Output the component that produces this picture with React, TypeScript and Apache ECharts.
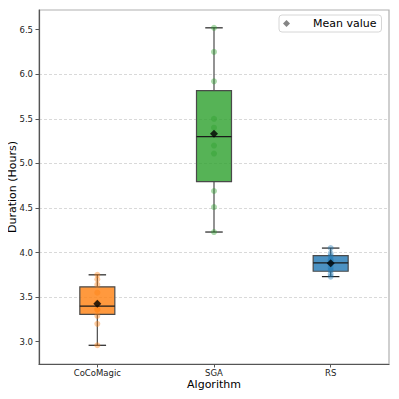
import React, { useEffect, useRef } from "react";
import * as echarts from "echarts";

const categories = ["CoCoMagic", "SGA", "RS"];
// [min, Q1, median, Q3, max]
const boxStats = [
  [2.96, 3.307, 3.40, 3.615, 3.75],
  [4.23, 4.795, 5.30, 5.815, 6.52],
  [3.73, 3.79, 3.884, 3.966, 4.05],
];
const meanValues = [3.425, 5.333, 3.881];
const cocoPoints = [2.96, 3.20, 3.29, 3.36, 3.36, 3.44, 3.55, 3.64, 3.70, 3.75];
const sgaPoints = [4.23, 4.51, 4.69, 5.11, 5.20, 5.40, 5.50, 5.92, 6.25, 6.52];
const rsPoints = [3.73, 3.76, 3.80, 3.83, 3.87, 3.90, 3.92, 3.96, 3.99, 4.05];
const yTicks = [3.0, 3.5, 4.0, 4.5, 5.0, 5.5, 6.0, 6.5];

const baseRGB = [
  [255, 127, 14],
  [44, 160, 44],
  [31, 119, 180],
];
const rgba = (c: number[], a: number) => `rgba(${c[0]},${c[1]},${c[2]},${a})`;

export default function App() {
  const ref = useRef<HTMLDivElement>(null);
  useEffect(() => {
    if (!ref.current) return;
    const chart = echarts.init(ref.current, null, { renderer: "svg" });
    const pointSets = [cocoPoints, sgaPoints, rsPoints];
    const font = "DejaVu Sans";
    const option: any = {
      animation: false,
      backgroundColor: "#ffffff",
      textStyle: { fontFamily: font },
      grid: {
        left: 39,
        right: 10,
        top: 10,
        bottom: 35,
        outerBoundsMode: "none",
        containLabel: false,
        show: true,
        borderColor: "#b0b0b0",
        borderWidth: 1.2,
      },
      legend: {
        left: 279,
        top: 15,
        padding: [3, 5, 3, 4],
        itemWidth: 25,
        itemHeight: 7,
        itemGap: 5,
        symbolKeepAspect: true,
        borderColor: "#d6d6d6",
        borderWidth: 1,
        borderRadius: 3,
        backgroundColor: "#ffffff",
        textStyle: { fontFamily: font, fontSize: 11, color: "#000", padding: [0, 0, 0, 9] },
        data: [
          {
            name: "Mean value",
            icon: "path://M0,-1L1,0L0,1L-1,0Z",
            itemStyle: { color: "#666666" },
          },
        ],
      },
      xAxis: {
        type: "category",
        data: categories,
        boundaryGap: true,
        name: "Algorithm",
        nameLocation: "middle",
        nameGap: 15,
        nameMoveOverlap: false,
        nameTextStyle: { fontFamily: font, fontSize: 11, color: "#000" },
        axisLine: { lineStyle: { color: "#555", width: 1.2 } },
        axisTick: { show: true, alignWithLabel: true, length: 3.5, lineStyle: { color: "#555" } },
        axisLabel: { fontFamily: font, fontSize: 8.5, color: "#222", margin: 4 },
        splitLine: { show: false },
      },
      yAxis: {
        type: "value",
        min: 2.75,
        max: 6.72,
        interval: 0.5,
        name: "Duration (Hours)",
        nameLocation: "middle",
        nameGap: 21,
        nameMoveOverlap: false,
        nameTextStyle: { fontFamily: font, fontSize: 11, color: "#000" },
        axisLine: { show: true, lineStyle: { color: "#555", width: 1.2 } },
        axisTick: { show: true, length: 3.5, lineStyle: { color: "#555" }, customValues: yTicks },
        axisLabel: {
          fontFamily: font,
          fontSize: 8.5,
          color: "#222",
          margin: 6,
          customValues: yTicks,
          formatter: (v: number) => v.toFixed(1),
        },
        splitLine: {
          show: true,
          showMinLine: false,
          showMaxLine: false,
          lineStyle: { color: "#cfcfcf", type: [3, 2], width: 0.8 },
        },
      },
      series: [
        {
          type: "custom",
          name: "box",
          z: 2,
          encode: { x: 0, y: [1, 2, 3, 4, 5] },
          data: boxStats.map((s, i) => [i, ...s]),
          renderItem: (params: any, api: any) => {
            const ci = api.value(0);
            const ptMin = api.coord([ci, api.value(1)]);
            const ptQ1 = api.coord([ci, api.value(2)]);
            const ptMed = api.coord([ci, api.value(3)]);
            const ptQ3 = api.coord([ci, api.value(4)]);
            const ptMax = api.coord([ci, api.value(5)]);
            const cx = ptMed[0];
            const bw = api.size([1, 0])[0] * 0.3;
            const cap = bw / 4;
            const edge = "#4a4a4a";
            const fill = rgba(baseRGB[params.dataIndex], 0.8);
            return {
              type: "group",
              children: [
                { type: "line", shape: { x1: cx, y1: ptMax[1], x2: cx, y2: ptQ3[1] }, style: { stroke: edge, lineWidth: 1.2 } },
                { type: "line", shape: { x1: cx, y1: ptQ1[1], x2: cx, y2: ptMin[1] }, style: { stroke: edge, lineWidth: 1.2 } },
                { type: "line", shape: { x1: cx - cap, y1: ptMax[1], x2: cx + cap, y2: ptMax[1] }, style: { stroke: "#222", lineWidth: 1.2 } },
                { type: "line", shape: { x1: cx - cap, y1: ptMin[1], x2: cx + cap, y2: ptMin[1] }, style: { stroke: "#222", lineWidth: 1.2 } },
                {
                  type: "rect",
                  shape: { x: cx - bw / 2, y: ptQ3[1], width: bw, height: ptQ1[1] - ptQ3[1] },
                  style: { fill, stroke: edge, lineWidth: 1.2 },
                },
                { type: "line", shape: { x1: cx - bw / 2, y1: ptMed[1], x2: cx + bw / 2, y2: ptMed[1] }, style: { stroke: "#1a1a1a", lineWidth: 1.2 } },
              ],
            };
          },
        },
        ...pointSets.map((pts, i) => ({
          type: "scatter",
          name: categories[i] + " points",
          z: 3,
          symbol: "circle",
          symbolSize: 6,
          itemStyle: { color: rgba(baseRGB[i], 0.5) },
          data: pts.map((v) => [categories[i], v]),
        })),
        {
          type: "scatter",
          name: "Mean value",
          z: 4,
          symbol: "diamond",
          symbolSize: 8,
          itemStyle: { color: "#000000" },
          data: meanValues.map((v, i) => [categories[i], v]),
        },
      ],
    };
    chart.setOption(option);
    return () => chart.dispose();
  }, []);
  return <div ref={ref} style={{ width: 399, height: 399, margin: -8 }} />;
}
